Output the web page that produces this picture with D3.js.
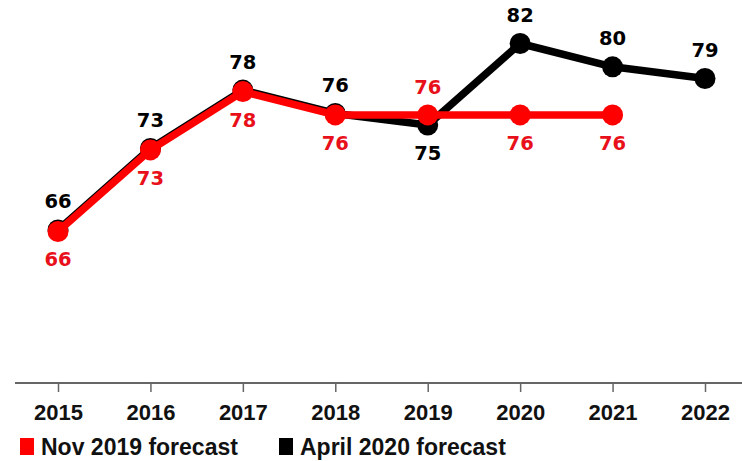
<!DOCTYPE html>
<html>
<head>
<meta charset="utf-8">
<script src="https://cdn.jsdelivr.net/npm/d3@7"></script>
<style>
  body { margin: 0; background: #fff; }
  svg { display: block; }
  .axis-label, .legend text { font-family: "Liberation Sans", Arial, sans-serif; font-weight: bold; }
  .val { font-family: "DejaVu Sans", Verdana, sans-serif; font-weight: bold; font-size: 19.5px; }
</style>
</head>
<body>
<div id="chart"></div>
<script>
// chart data
var years = [2015, 2016, 2017, 2018, 2019, 2020, 2021, 2022];
var nov2019 = [66, 73, 78, 76, 76, 76, 76, null];
var april2020 = [66, 73, 78, 76, 75, 82, 80, 79];
var seriesNames = ['Nov 2019 forecast', 'April 2020 forecast'];

var width = 742, height = 461;
var red = '#ff0000', black = '#000';

var svg = d3.select('#chart').append('svg')
    .attr('width', width)
    .attr('height', height);

var x = d3.scalePoint()
    .domain(years)
    .range([58, 705]);

var y = d3.scaleLinear()
    .domain([53, 82])
    .range([383, 45]);

// x axis
var xAxis = d3.axisBottom(x).tickSize(9).tickSizeOuter(0).tickPadding(12);
var gx = svg.append('g')
    .attr('transform', 'translate(0,383)')
    .call(xAxis);
gx.select('.domain').remove();
gx.insert('line', ':first-child')
    .attr('x1', 15).attr('x2', width)
    .attr('stroke', '#666').attr('stroke-width', 2);
gx.selectAll('.tick line').attr('stroke', '#666').attr('stroke-width', 1.5);
gx.selectAll('.tick text')
    .attr('class', 'axis-label')
    .attr('fill', '#111')
    .style('font-size', '22px');

var line = d3.line()
    .defined(function(d) { return d != null; })
    .x(function(d, i) { return x(years[i]); })
    .y(function(d) { return y(d); });

function drawSeries(vals, color, dy) {
    var g = svg.append('g').attr('transform', 'translate(0,' + dy + ')');
    g.append('path')
        .datum(vals)
        .attr('fill', 'none')
        .attr('stroke', color)
        .attr('stroke-width', 7.5)
        .attr('stroke-linejoin', 'round')
        .attr('d', line);
    g.selectAll('circle')
        .data(vals.map(function(v, i) { return {v: v, i: i}; }).filter(function(d) { return d.v != null; }))
        .enter().append('circle')
        .attr('cx', function(d) { return x(years[d.i]); })
        .attr('cy', function(d) { return y(d.v); })
        .attr('r', 10.5)
        .attr('fill', color);
    return g;
}

// black drawn first, sitting a touch higher so it peeks out under the red
drawSeries(april2020, black, -1.5);
drawSeries(nov2019, red, 0);

// value labels: black above except 2019, red below except 2019
var blackAbove = [true, true, true, true, false, true, true, true];
var redAbove = [false, false, false, false, true, false, false, false];

function drawLabels(vals, color, above, dy) {
    svg.append('g').selectAll('text')
        .data(vals.map(function(v, i) { return {v: v, i: i}; }).filter(function(d) { return d.v != null; }))
        .enter().append('text')
        .attr('class', 'val')
        .attr('fill', color)
        .attr('text-anchor', 'middle')
        .attr('x', function(d) { return x(years[d.i]); })
        .attr('y', function(d) { return y(d.v) + dy + (above[d.i] ? -21 : 35); })
        .text(function(d) { return d.v; });
}
drawLabels(april2020, black, blackAbove, -2);
drawLabels(nov2019, '#e8101a', redAbove, 0);

// legend
var legend = svg.append('g').attr('class', 'legend');
var legX = [20, 279];
[red, black].forEach(function(c, i) {
    legend.append('rect')
        .attr('x', legX[i]).attr('y', 438)
        .attr('width', 14).attr('height', 17)
        .attr('fill', c);
    legend.append('text')
        .attr('x', legX[i] + 21).attr('y', 455)
        .attr('fill', '#111')
        .style('font-size', '23px')
        .text(seriesNames[i]);
});
</script>
</body>
</html>
